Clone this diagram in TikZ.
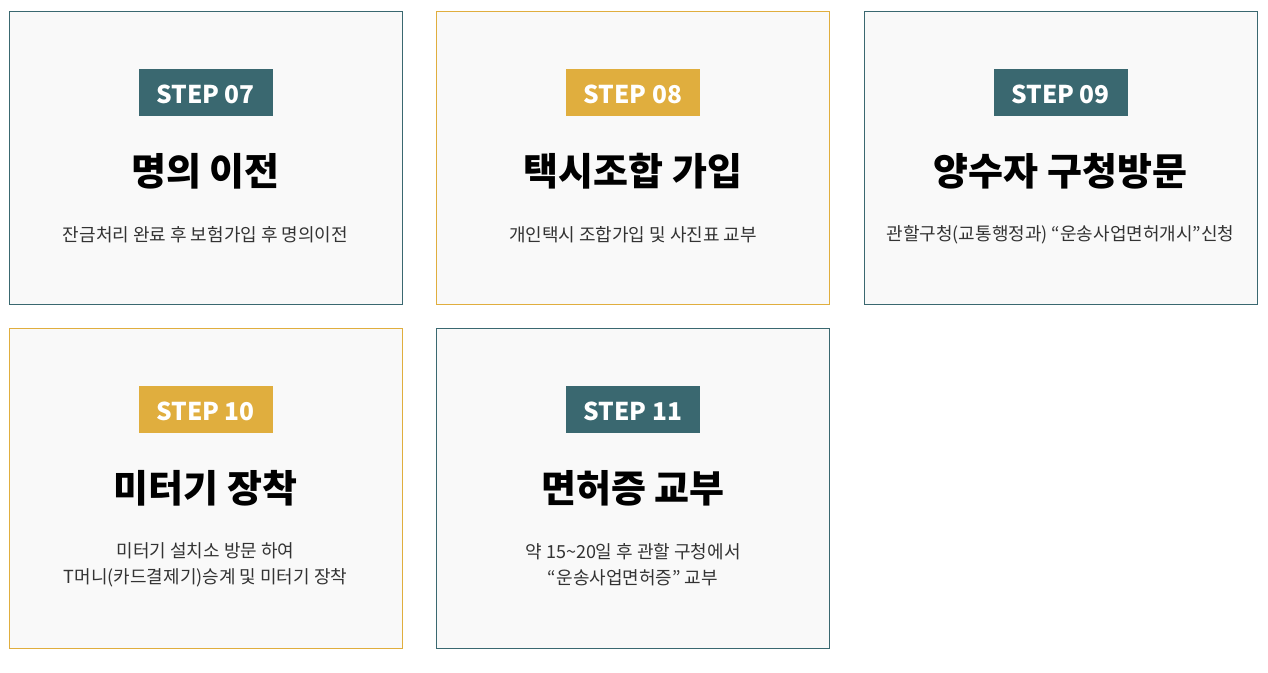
\documentclass[tikz,border=0pt]{standalone}
\usepackage{fontspec}
\setmainfont{Noto Sans CJK KR}
\definecolor{teal}{HTML}{3A6870}
\definecolor{gold}{HTML}{E0AE3E}
\definecolor{boxbg}{HTML}{F9F9F9}
\definecolor{desc}{HTML}{333333}
\tikzset{
  card/.style={draw=#1, line width=0.9pt, fill=boxbg, minimum width=393pt, minimum height=293pt, inner sep=0pt},
  badge/.style={fill=#1, text=white, minimum width=134pt, minimum height=47pt, inner sep=0pt, text height=21pt, text depth=0pt, font=\fontsize{24.5}{28}\selectfont\bfseries},
  heading/.style={font=\fontsize{38}{44}\selectfont\bfseries, text=black, inner sep=0pt},
  descr/.style={font=\fontsize{18}{26}\selectfont, text=desc, align=center, inner sep=0pt},
}
\begin{document}
\begin{tikzpicture}[x=1pt,y=-1pt]
\useasboundingbox (0,0) rectangle (1268,672);
\fill[white] (0,0) rectangle (1268,672);
% row 1
\node[card=teal] (c1) at (205.5,157.5) {};
\node[card=gold] (c2) at (633,157.5) {};
\node[card=teal] (c3) at (1060.5,157.5) {};
% row 2
\node[card=gold, minimum height=320pt] (c4) at (205.5,488) {};
\node[card=teal, minimum height=320pt] (c5) at (633,488) {};

\node[badge=teal] (b1) at (205.5,92.5) {STEP 07};
\node[badge=gold] (b2) at (633,92.5) {STEP 08};
\node[badge=teal] (b3) at (1060.5,92.5) {STEP 09};
\node[badge=gold] (b4) at (205.5,409.5) {STEP 10};
\node[badge=teal] (b5) at (633,409.5) {STEP 11};

\node[heading] (h1) at (205.5,171) {명의 이전};
\node[heading] (h2) at (633,171) {택시조합 가입};
\node[heading] (h3) at (1060.5,171) {양수자 구청방문};
\node[heading] (h4) at (205.5,488) {미터기 장착};
\node[heading] (h5) at (633,488) {면허증 교부};

\node[descr] (d1) at (205.5,235) {잔금처리 완료 후 보험가입 후 명의이전};
\node[descr] (d2) at (633,235) {개인택시 조합가입 및 사진표 교부};
\node[descr] (d3) at (1060.5,235) {관할구청(교통행정과) “운송사업면허개시”신청};
\node[descr] (d4) at (205.5,565) {미터기 설치소 방문 하여\\T머니(카드결제기)승계 및 미터기 장착};
\node[descr] (d5) at (633,565) {약 15\textasciitilde20일 후 관할 구청에서\\“운송사업면허증” 교부};
\end{tikzpicture}
\end{document}
